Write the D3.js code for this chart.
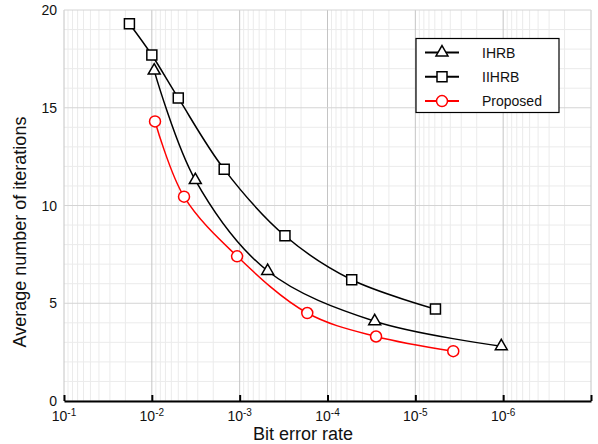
<!DOCTYPE html>
<html>
<head>
<meta charset="utf-8">
<script src="https://cdn.jsdelivr.net/npm/d3@7"></script>
<style>
  html, body { margin: 0; padding: 0; background: #fff; }
  svg { display: block; font-family: "Liberation Sans", Arial, sans-serif; }
</style>
</head>
<body>
<svg id="chart" width="598" height="444"></svg>
<script>
// Bit error rate vs. average iterations for three decoders
const decadeExponents = [-1, -2, -3, -4, -5, -6, -7];
const yTicks = [0, 5, 10, 15, 20];

const ihrbBer  = [9.4e-3, 3.2e-3, 4.8e-4, 2.9e-5, 1.05e-6];
const ihrbIter = [16.9, 11.3, 6.65, 4.08, 2.8];

const iihrbBer  = [1.8e-2, 1.0e-2, 5.0e-3, 1.5e-3, 3.05e-4, 5.3e-5, 5.9e-6];
const iihrbIter = [19.3, 17.7, 15.5, 11.85, 8.45, 6.2, 4.7];

const propBer  = [9.2e-3, 4.3e-3, 1.07e-3, 1.7e-4, 2.8e-5, 3.7e-6];
const propIter = [14.3, 10.45, 7.4, 4.5, 3.3, 2.55];

const seriesNames = ["IHRB", "IIHRB", "Proposed"];

const svg = d3.select("#chart");
const plotLeft = 64, plotRight = 591, plotTop = 10, plotBottom = 401;

const x = d3.scaleLog().domain([1e-1, 1e-7]).range([plotLeft, plotRight]);
const y = d3.scaleLinear().domain([0, 20]).range([plotBottom, plotTop]);

// minor grid
const g = svg.append("g");
const minorX = [];
for (let e = -1; e > -7; e--) {
  for (let k = 9; k >= 2; k--) minorX.push(k * Math.pow(10, e - 1));
}
g.selectAll("line.minx").data(minorX).join("line")
  .attr("x1", d => x(d)).attr("x2", d => x(d))
  .attr("y1", plotTop).attr("y2", plotBottom)
  .attr("stroke", "#ebebeb").attr("stroke-width", 1);
g.selectAll("line.miny").data(d3.range(0, 21).filter(v => v % 5 !== 0)).join("line")
  .attr("x1", plotLeft).attr("x2", plotRight)
  .attr("y1", d => y(d)).attr("y2", d => y(d))
  .attr("stroke", "#ebebeb").attr("stroke-width", 1);

// major grid
g.selectAll("line.majx").data(decadeExponents).join("line")
  .attr("x1", d => x(Math.pow(10, d))).attr("x2", d => x(Math.pow(10, d)))
  .attr("y1", plotTop).attr("y2", plotBottom)
  .attr("stroke", "#c4c4c4").attr("stroke-width", 1);
g.selectAll("line.majy").data(yTicks).join("line")
  .attr("x1", plotLeft).attr("x2", plotRight)
  .attr("y1", d => y(d)).attr("y2", d => y(d))
  .attr("stroke", "#d4d4d4").attr("stroke-width", 1);

// x axis: inward ticks at each decade
const xAxis = d3.axisBottom(x)
  .tickValues(decadeExponents.map(e => Math.pow(10, e)))
  .tickSizeInner(-6).tickSizeOuter(0)
  .tickFormat("");
const ax = svg.append("g").attr("transform", `translate(0,${plotBottom})`).call(xAxis);
ax.select(".domain").attr("stroke", "#000").attr("stroke-width", 2);
ax.selectAll(".tick line").attr("stroke", "#000").attr("stroke-width", 2);

// x tick labels as 10 with superscript exponent
const xl = svg.append("g");
decadeExponents.slice(0, 6).forEach(e => {
  const t = xl.append("text")
    .attr("x", x(Math.pow(10, e)))
    .attr("y", 421)
    .attr("text-anchor", "middle")
    .attr("font-size", 14)
    .attr("fill", "#111");
  t.append("tspan").text("10");
  t.append("tspan").attr("font-size", 10).attr("dy", -5).text(String(e));
});

// y tick labels
svg.append("g").selectAll("text").data(yTicks).join("text")
  .attr("x", 57).attr("y", d => y(d))
  .attr("dy", "0.36em")
  .attr("text-anchor", "end")
  .attr("font-size", 14)
  .attr("fill", "#111")
  .text(d => d);

// axis titles
svg.append("text")
  .attr("x", 303).attr("y", 440)
  .attr("text-anchor", "middle").attr("font-size", 18).attr("fill", "#111")
  .text("Bit error rate");
svg.append("text")
  .attr("transform", "translate(26,232) rotate(-90)")
  .attr("text-anchor", "middle").attr("font-size", 18).attr("fill", "#111")
  .text("Average number of iterations");

// curves
const line = d3.line().curve(d3.curveCatmullRom.alpha(0.5));
function drawSeries(bers, iters, color, shape) {
  const pts = bers.map((b, i) => [x(b), y(iters[i])]);
  svg.append("path").attr("d", line(pts))
    .attr("fill", "none").attr("stroke", color).attr("stroke-width", 1.5);
  const gm = svg.append("g");
  pts.forEach(p => drawMarker(gm, p[0], p[1], color, shape));
}
function drawMarker(parent, cx, cy, color, shape) {
  if (shape === "circle") {
    parent.append("circle").attr("cx", cx).attr("cy", cy).attr("r", 5.5)
      .attr("fill", "#fff").attr("stroke", color).attr("stroke-width", 1.5);
  } else {
    const sym = shape === "triangle"
      ? d3.symbol(d3.symbolTriangle, 62)
      : d3.symbol(d3.symbolSquare, 100);
    parent.append("path").attr("d", sym())
      .attr("transform", `translate(${cx},${cy})`)
      .attr("fill", "#fff").attr("stroke", color).attr("stroke-width", 1.5);
  }
}

drawSeries(iihrbBer, iihrbIter, "#000", "square");
drawSeries(ihrbBer, ihrbIter, "#000", "triangle");
drawSeries(propBer, propIter, "#ff0000", "circle");

// legend
const lg = svg.append("g");
lg.append("rect").attr("x", 416).attr("y", 38.5).attr("width", 143).attr("height", 74)
  .attr("fill", "#fff").attr("stroke", "#000").attr("stroke-width", 1.2);
const legendStyles = [
  { color: "#000", shape: "triangle" },
  { color: "#000", shape: "square" },
  { color: "#ff0000", shape: "circle" }
];
seriesNames.forEach((name, i) => {
  const ly = 52.5 + i * 24.3;
  lg.append("line").attr("x1", 425).attr("x2", 459).attr("y1", ly).attr("y2", ly)
    .attr("stroke", legendStyles[i].color).attr("stroke-width", 2);
  drawMarker(lg, 442, ly, legendStyles[i].color, legendStyles[i].shape);
  lg.append("text").attr("x", 482).attr("y", ly).attr("dy", "0.36em")
    .attr("font-size", 14).attr("fill", "#111").text(name);
});
</script>
</body>
</html>
